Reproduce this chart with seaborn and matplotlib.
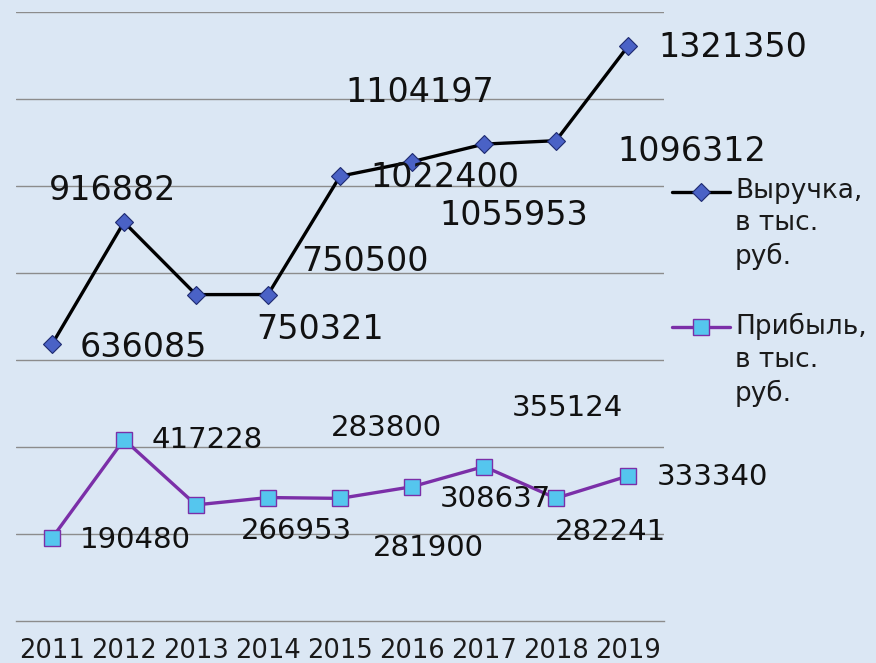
import matplotlib
matplotlib.use("Agg")
import matplotlib.pyplot as plt
from matplotlib.lines import Line2D
import seaborn as sns
import pandas as pd
import numpy as np

years = ["2011", "2012", "2013", "2014", "2015", "2016", "2017", "2018", "2019"]
revenue = [636085, 916882, 750321, 750500, 1022400, 1055953, 1096312, 1104197, 1321350]
profit = [190480, 417228, 266953, 283800, 281900, 308637, 355124, 282241, 333340]
revenue_name = "Выручка,\nв тыс.\nруб."
profit_name = "Прибыль,\nв тыс.\nруб."

# label offsets (points) from each marker, Excel placed them rather freely
rev_offsets = [(20, -2, "left"), (-8, 23, "center"), (89, -25, "center"), (24, 24, "left"),
               (22, -1, "left"), (20, -39, "left"), (96, -5, "left"), (-152, 35, "left"),
               (22, -1, "left")]
prof_offsets = [(20, -1, "left"), (20, 0, "left"), (32, -19, "left"), (45, 50, "left"),
                (24, -36, "left"), (20, -9, "left"), (20, 42, "left"), (-1, -24, "left"),
                (21, -1, "left")]

df = pd.DataFrame({"year": years, "revenue": revenue, "profit": profit})

sns.set_theme(style="white")
plt.rcParams["font.family"] = ["DejaVu Sans"]

bg = "#dbe7f4"
fig = plt.figure(figsize=(8.76, 6.63), dpi=100, facecolor=bg)
ax = fig.add_axes([16 / 876, 1 - 621 / 663, 648 / 876, 609 / 663])
ax.set_facecolor(bg)

rev_style = dict(color="black", lw=2.4, marker="D", markersize=9.5, markerfacecolor="#4a62c6",
                 markeredgecolor="#1d2a70", markeredgewidth=0.8)
prof_style = dict(color="#7b2fa8", lw=2.4, marker="s", markersize=11, markerfacecolor="#55c6ee",
                  markeredgecolor="#7b2fa8", markeredgewidth=1.0)

sns.lineplot(data=df, x="year", y="revenue", ax=ax, legend=False, **rev_style)
sns.lineplot(data=df, x="year", y="profit", ax=ax, legend=False, **prof_style)

for i, (v, (dx, dy, ha)) in enumerate(zip(revenue, rev_offsets)):
    ax.annotate(str(v), (i, v), xytext=(dx, dy), textcoords="offset points",
                ha=ha, va="center", fontsize=24, color="#111111")
for i, (v, (dx, dy, ha)) in enumerate(zip(profit, prof_offsets)):
    ax.annotate(str(v), (i, v), xytext=(dx, dy), textcoords="offset points",
                ha=ha, va="center", fontsize=21, color="#111111")

ax.set_ylim(0, 1400000)
ax.set_xlim(-0.5, len(years) - 0.5)
ax.set_yticks(np.arange(200000, 1400001, 200000))
ax.yaxis.grid(True, color="#8c8c8c", lw=1.0)
ax.tick_params(axis="y", left=False, labelleft=False)
ax.set_xticks(np.arange(-0.5, len(years)), minor=True)
ax.tick_params(axis="x", which="major", length=0, pad=12, labelsize=18.5, labelcolor="#1a1a1a")
ax.tick_params(axis="x", which="minor", length=5, width=1, color="#8c8c8c", direction="out")
ax.set_xlabel("")
ax.set_ylabel("")
for s in ["top", "right", "left"]:
    ax.spines[s].set_visible(False)
ax.spines["bottom"].set_color("#8c8c8c")
ax.spines["bottom"].set_linewidth(1)
ax.set_axisbelow(True)

# legend drawn by hand so the key sits on the first line of each label
for name, style, ypx in [(revenue_name, rev_style, 192), (profit_name, prof_style, 327)]:
    yf = 1 - ypx / 663
    fig.add_artist(Line2D([672 / 876, 730 / 876], [yf, yf], transform=fig.transFigure,
                          color=style["color"], lw=style["lw"]))
    mk = {k: v for k, v in style.items() if k.startswith("marker")}
    fig.add_artist(Line2D([701 / 876], [yf], transform=fig.transFigure, lw=0, **mk))
    fig.text(735 / 876, 1 - (ypx - 14) / 663, name, ha="left", va="top", fontsize=19,
             color="#1a1a1a", linespacing=1.32, transform=fig.transFigure)

fig.savefig("out.png", dpi=100, facecolor=bg)
